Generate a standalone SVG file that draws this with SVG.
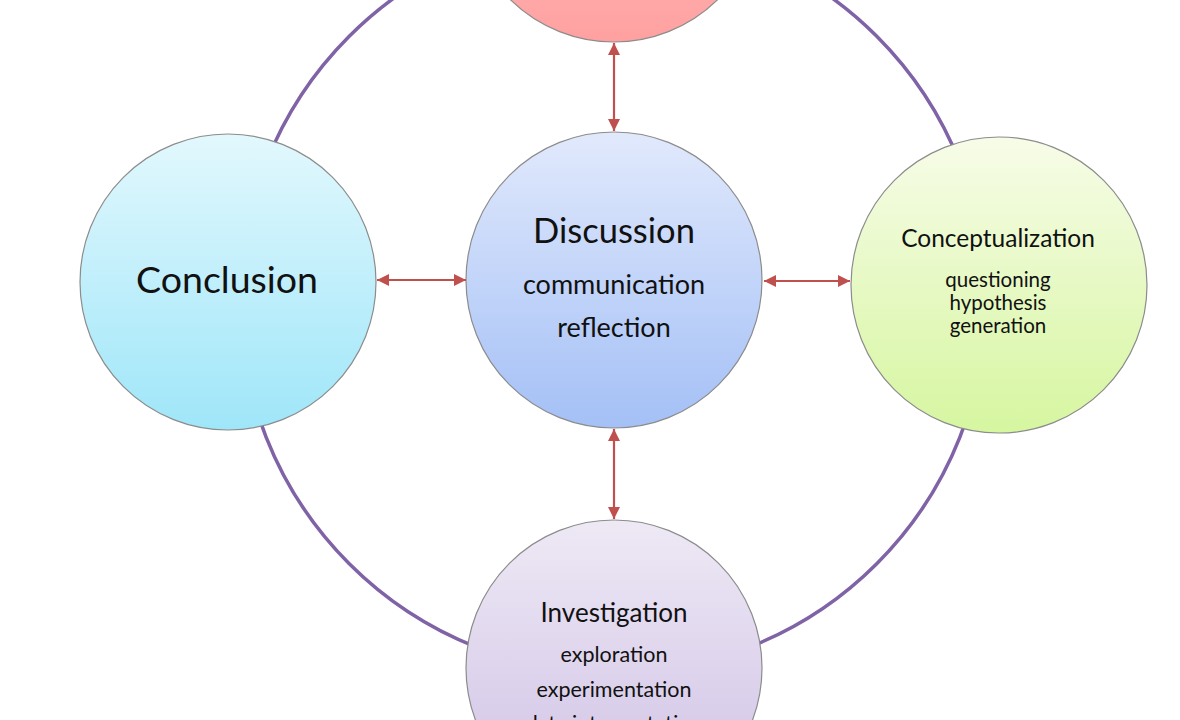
<svg xmlns="http://www.w3.org/2000/svg" width="1180" height="720" viewBox="0 0 1180 720">
<defs>
<style>
.node{stroke:#8c8c8c;stroke-width:1.2}
.t{font-family:Lato,"Liberation Sans",sans-serif;fill:#111;text-anchor:middle}
.conn{stroke:#c0504d;stroke-width:2.2;fill:none;marker-start:url(#ah);marker-end:url(#ah)}
</style>
<marker id="ah" viewBox="0 0 12 12" refX="12" refY="6" markerWidth="12" markerHeight="12" markerUnits="userSpaceOnUse" orient="auto-start-reverse">
<path d="M0,0 L12,6 L0,12 Z" fill="#c0504d"/>
</marker>
<linearGradient id="gPink" x1="0" y1="0" x2="0" y2="1"><stop offset="0" stop-color="#ffd3d3"/><stop offset="1" stop-color="#ffa0a0"/></linearGradient>
<linearGradient id="gBlue" x1="0" y1="0" x2="0" y2="1"><stop offset="0" stop-color="#e1e9fc"/><stop offset="1" stop-color="#a4c0f6"/></linearGradient>
<linearGradient id="gCyan" x1="0" y1="0" x2="0" y2="1"><stop offset="0" stop-color="#e2f8fd"/><stop offset="1" stop-color="#9fe6f9"/></linearGradient>
<linearGradient id="gGreen" x1="0" y1="0" x2="0" y2="1"><stop offset="0" stop-color="#f7fce8"/><stop offset="1" stop-color="#d6f6a0"/></linearGradient>
<linearGradient id="gPurple" x1="0" y1="0" x2="0" y2="1"><stop offset="0" stop-color="#eee9f5"/><stop offset="1" stop-color="#cfc0e5"/></linearGradient>
</defs>
<rect width="1180" height="720" fill="#ffffff"/>
<circle id="cycle" cx="613" cy="300" r="373" fill="none" stroke="#7f63a6" stroke-width="3.5"/>
<g id="node-top"><circle class="node" cx="614" cy="-106" r="148" fill="url(#gPink)" stroke="#a07070"/></g>
<g id="node-discussion">
<circle class="node" cx="614" cy="280" r="148" fill="url(#gBlue)"/>
<text class="t" x="614" y="243" font-size="34.5">Discussion</text>
<text class="t" x="614" y="294" font-size="27">communication</text>
<text class="t" x="614" y="337" font-size="27">reflection</text>
</g>
<g id="node-conclusion">
<circle class="node" cx="228" cy="282" r="148" fill="url(#gCyan)"/>
<text class="t" x="227" y="293" font-size="37.5">Conclusion</text>
</g>
<g id="node-conceptualization">
<circle class="node" cx="999" cy="285" r="148" fill="url(#gGreen)"/>
<text class="t" x="998" y="247" font-size="24.5">Conceptualization</text>
<text class="t" x="998" y="287" font-size="20.5">questioning</text>
<text class="t" x="998" y="310" font-size="20.5">hypothesis</text>
<text class="t" x="998" y="333" font-size="20.5">generation</text>
</g>
<g id="node-investigation">
<circle class="node" cx="614" cy="668" r="148" fill="url(#gPurple)"/>
<text class="t" x="614" y="622" font-size="26">Investigation</text>
<text class="t" x="614" y="662" font-size="21.5">exploration</text>
<text class="t" x="614" y="697" font-size="21.5">experimentation</text>
<text class="t" x="614" y="731" font-size="21.5">data interpretation</text>
</g>
<g id="connectors">
<line class="conn" x1="614" y1="43" x2="614" y2="131"/>
<line class="conn" x1="614" y1="429" x2="614" y2="519"/>
<line class="conn" x1="377" y1="280" x2="466" y2="280"/>
<line class="conn" x1="764" y1="281" x2="850" y2="281"/>
</g>
</svg>
